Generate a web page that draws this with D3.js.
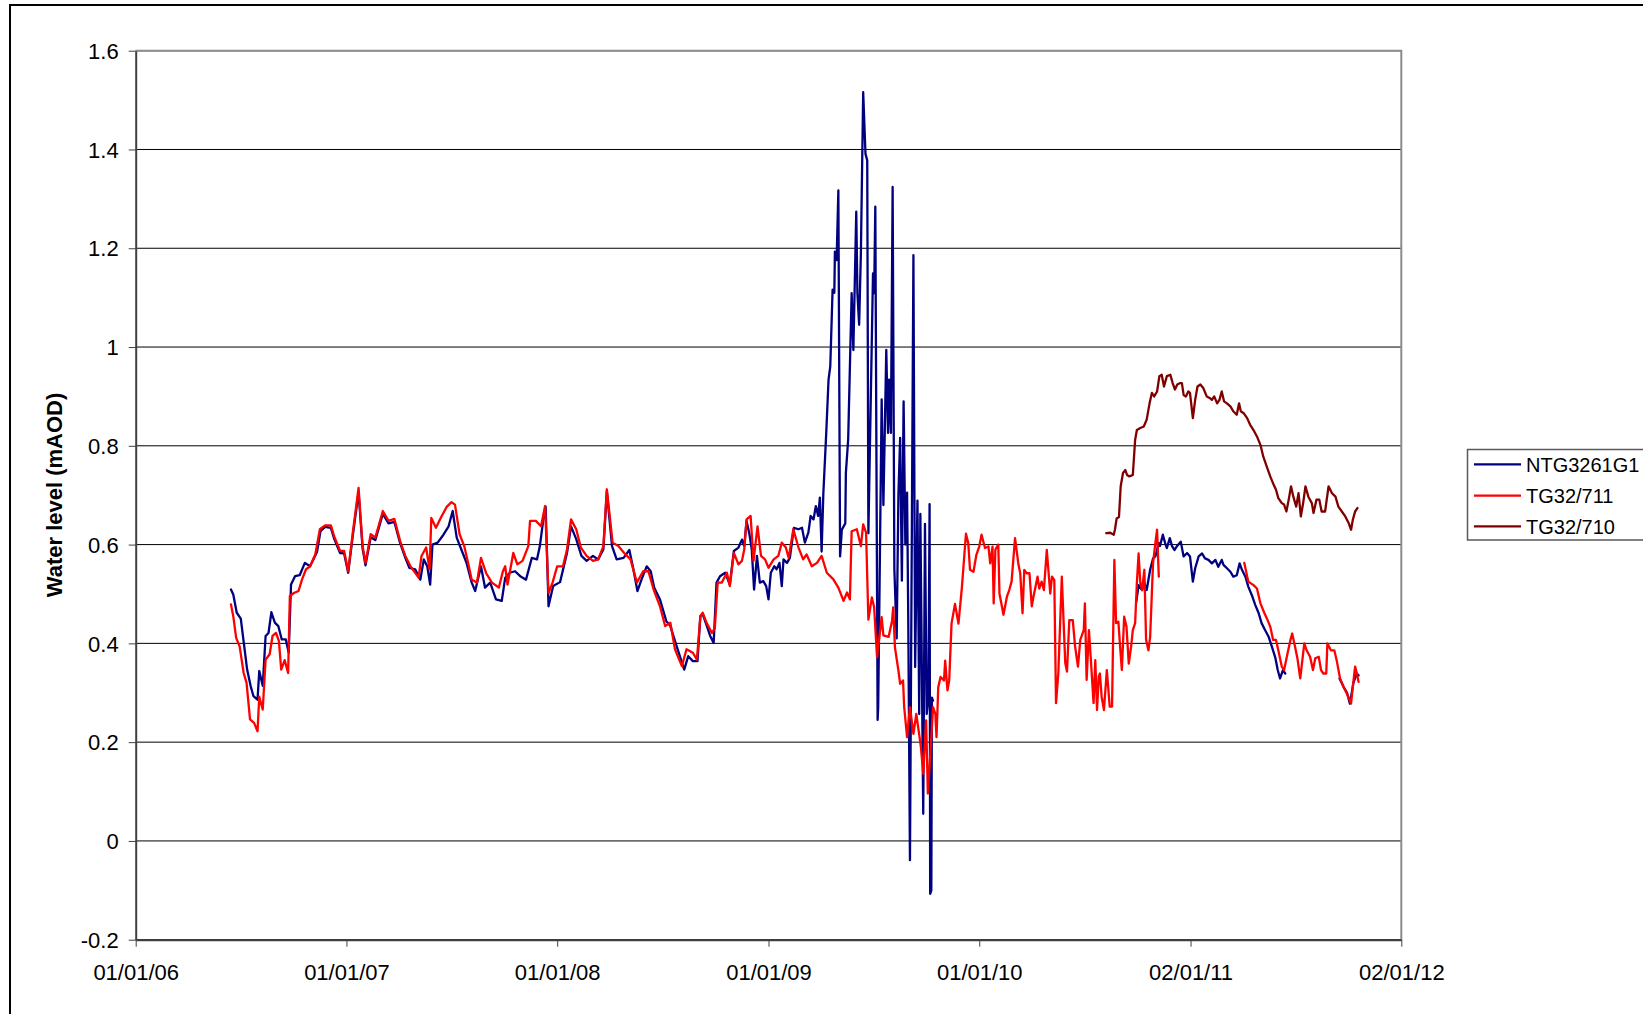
<!DOCTYPE html>
<html>
<head>
<meta charset="utf-8">
<script src="https://cdn.jsdelivr.net/npm/d3@7"></script>
<style>
  html, body { margin: 0; padding: 0; background: #ffffff; }
  svg { display: block; font-family: "Liberation Sans", Arial, Helvetica, sans-serif; }
</style>
</head>
<body>
<svg id="chart" width="1643" height="1014"></svg>
<script>
// Groundwater level readings (mAOD). A null value marks a break in the record.
const ntg3261g1 = [
  ["2006-06-15",0.509],["2006-06-19",0.499],["2006-06-25",0.462],["2006-07-02",0.450],["2006-07-08",0.394],
  ["2006-07-13",0.347],["2006-07-19",0.314],["2006-07-24",0.293],["2006-07-31",0.286],["2006-08-03",0.344],
  ["2006-08-09",0.314],["2006-08-14",0.415],["2006-08-19",0.421],["2006-08-24",0.463],["2006-08-30",0.442],
  ["2006-09-05",0.435],["2006-09-11",0.408],["2006-09-18",0.408],["2006-09-23",0.381],["2006-09-27",0.519],
  ["2006-10-04",0.536],["2006-10-12",0.538],["2006-10-21",0.563],["2006-10-30",0.556],["2006-11-11",0.585],
  ["2006-11-17",0.627],["2006-11-25",0.636],["2006-12-05",0.634],["2006-12-11",0.611],["2006-12-21",0.583],
  ["2006-12-28",0.582],["2007-01-04",0.543],["2007-01-12",0.618],["2007-01-22",0.706],["2007-01-29",0.592],
  ["2007-02-03",0.558],["2007-02-12",0.615],["2007-02-20",0.609],["2007-03-05",0.662],["2007-03-15",0.643],
  ["2007-03-25",0.646],["2007-04-04",0.603],["2007-04-13",0.573],["2007-04-20",0.553],["2007-04-30",0.550],
  ["2007-05-09",0.529],["2007-05-15",0.570],["2007-05-21",0.556],["2007-05-26",0.519],["2007-05-30",0.600],
  ["2007-06-08",0.604],["2007-06-18",0.620],["2007-06-27",0.637],["2007-07-04",0.668],["2007-07-11",0.614],
  ["2007-07-20",0.587],["2007-07-28",0.563],["2007-08-06",0.523],["2007-08-12",0.506],["2007-08-22",0.556],
  ["2007-08-29",0.513],["2007-09-07",0.523],["2007-09-17",0.489],["2007-09-27",0.486],["2007-10-03",0.533],
  ["2007-10-11",0.543],["2007-10-20",0.546],["2007-10-29",0.536],["2007-11-08",0.529],["2007-11-18",0.573],
  ["2007-11-27",0.570],["2007-12-02",0.597],["2007-12-08",0.651],["2007-12-12",0.677],["2007-12-17",0.475],
  ["2007-12-25",0.516],["2008-01-06",0.524],["2008-01-18",0.583],["2008-01-25",0.637],["2008-02-03",0.611],
  ["2008-02-12",0.577],["2008-02-21",0.567],["2008-03-03",0.577],["2008-03-12",0.570],["2008-03-21",0.590],
  ["2008-03-27",0.708],["2008-04-05",0.597],["2008-04-13",0.570],["2008-04-25",0.573],["2008-05-05",0.589],
  ["2008-05-12",0.550],["2008-05-19",0.506],["2008-05-26",0.529],["2008-06-04",0.556],["2008-06-11",0.546],
  ["2008-06-17",0.513],["2008-06-27",0.489],["2008-07-08",0.445],["2008-07-15",0.435],["2008-07-26",0.394],
  ["2008-08-08",0.347],["2008-08-15",0.374],["2008-08-23",0.364],["2008-08-31",0.364],["2008-09-05",0.455],
  ["2008-09-09",0.459],["2008-09-16",0.436],["2008-09-22",0.415],["2008-09-28",0.401],["2008-10-03",0.523],
  ["2008-10-09",0.536],["2008-10-18",0.543],["2008-10-26",0.519],["2008-11-02",0.587],["2008-11-10",0.594],
  ["2008-11-16",0.610],["2008-11-20",0.597],["2008-11-24",0.648],["2008-11-29",0.621],["2008-12-03",0.590],
  ["2008-12-07",0.509],["2008-12-12",0.577],["2008-12-17",0.523],["2008-12-23",0.526],["2008-12-28",0.516],
  ["2009-01-01",0.489],["2009-01-05",0.543],["2009-01-11",0.556],["2009-01-15",0.550],["2009-01-20",0.563],
  ["2009-01-24",0.516],["2009-01-27",0.570],["2009-02-02",0.563],["2009-02-07",0.573],["2009-02-14",0.634],
  ["2009-02-22",0.631],["2009-02-28",0.634],["2009-03-05",0.604],["2009-03-11",0.624],["2009-03-15",0.658],
  ["2009-03-20",0.651],["2009-03-24",0.678],["2009-03-28",0.658],["2009-03-31",0.695],["2009-04-03",0.586],
  ["2009-04-06",0.704],["2009-04-11",0.826],["2009-04-15",0.934],["2009-04-18",0.961],["2009-04-22",1.116],
  ["2009-04-25",1.110],["2009-04-26",1.193],["2009-04-29",1.176],["2009-05-02",1.317],["2009-05-05",0.576],
  ["2009-05-08",0.630],["2009-05-14",0.643],["2009-05-15",0.745],["2009-05-19",0.813],["2009-05-25",1.109],
  ["2009-05-28",0.994],["2009-06-02",1.274],["2009-06-04",1.109],["2009-06-07",1.045],["2009-06-10",1.190],
  ["2009-06-14",1.516],["2009-06-18",1.391],["2009-06-21",1.378],["2009-06-23",0.623],["2009-07-01",1.149],
  ["2009-07-03",1.109],["2009-07-05",1.284],["2009-07-09",0.245],["2009-07-10",0.272],["2009-07-16",0.894],
  ["2009-07-19",0.680],["2009-07-24",0.994],["2009-07-27",0.826],["2009-07-29",0.934],["2009-08-01",0.826],
  ["2009-08-04",1.324],["2009-08-07",0.550],["2009-08-11",0.410],["2009-08-14",0.700],["2009-08-17",0.816],
  ["2009-08-20",0.527],["2009-08-23",0.890],["2009-08-26",0.600],["2009-08-29",0.705],["2009-08-31",0.460],
  ["2009-09-03",-0.039],["2009-09-09",1.186],["2009-09-12",0.352],["2009-09-16",0.689],["2009-09-19",0.257],
  ["2009-09-21",0.662],["2009-09-26",0.055],["2009-09-29",0.642],["2009-10-02",0.257],["2009-10-05",0.290],
  ["2009-10-07",0.682],["2009-10-08",-0.107],["2009-10-10",-0.100],["2009-10-11",0.290],["2009-10-13",0.284],
  ["2010-01-01",null],
  ["2010-09-30",0.484],["2010-10-04",0.518],["2010-10-10",0.508],["2010-10-14",0.522],["2010-10-18",0.508],
  ["2010-10-24",0.549],["2010-10-29",0.572],["2010-11-02",0.576],["2010-11-08",0.603],["2010-11-10",0.597],
  ["2010-11-15",0.620],["2010-11-19",0.603],["2010-11-22",0.593],["2010-11-27",0.613],["2010-12-01",0.597],
  ["2010-12-05",0.589],["2010-12-09",0.596],["2010-12-16",0.606],["2010-12-21",0.576],["2010-12-27",0.583],
  ["2011-01-01",0.576],["2011-01-06",0.525],["2011-01-10",0.552],["2011-01-16",0.576],["2011-01-22",0.582],
  ["2011-01-27",0.572],["2011-02-02",0.569],["2011-02-08",0.562],["2011-02-14",0.569],["2011-02-19",0.555],
  ["2011-02-25",0.569],["2011-02-28",0.559],["2011-03-06",0.552],["2011-03-12",0.545],["2011-03-17",0.535],
  ["2011-03-23",0.538],["2011-03-28",0.562],["2011-04-01",0.549],["2011-04-07",0.535],["2011-04-12",0.515],
  ["2011-04-18",0.498],["2011-04-24",0.478],["2011-04-30",0.461],["2011-05-05",0.441],["2011-05-11",0.427],
  ["2011-05-17",0.414],["2011-05-23",0.393],["2011-05-29",0.370],["2011-06-02",0.346],["2011-06-06",0.329],
  ["2011-06-11",0.346],["2011-06-15",0.339],
  ["2011-07-15",null],
  ["2011-09-17",0.329],["2011-09-24",0.312],["2011-09-30",0.300],["2011-10-05",0.278],["2011-10-11",0.320],
  ["2011-10-17",0.339],["2011-10-20",0.335]
];

const tg32_711 = [
  ["2006-06-15",0.479],["2006-06-19",0.455],["2006-06-24",0.411],["2006-06-30",0.394],["2006-07-07",0.340],
  ["2006-07-12",0.320],["2006-07-18",0.246],["2006-07-25",0.239],["2006-07-31",0.222],["2006-08-03",0.292],
  ["2006-08-09",0.266],["2006-08-14",0.367],["2006-08-21",0.378],["2006-08-26",0.415],["2006-09-01",0.421],
  ["2006-09-06",0.405],["2006-09-10",0.347],["2006-09-16",0.366],["2006-09-22",0.340],["2006-09-25",0.496],
  ["2006-10-02",0.502],["2006-10-10",0.506],["2006-10-16",0.529],["2006-10-23",0.550],["2006-10-30",0.556],
  ["2006-11-08",0.580],["2006-11-16",0.631],["2006-11-25",0.639],["2006-12-05",0.639],["2006-12-11",0.616],
  ["2006-12-21",0.587],["2006-12-28",0.587],["2007-01-04",0.546],["2007-01-12",0.624],["2007-01-22",0.715],
  ["2007-01-29",0.597],["2007-02-03",0.563],["2007-02-12",0.621],["2007-02-20",0.614],["2007-03-05",0.668],
  ["2007-03-15",0.648],["2007-03-25",0.652],["2007-04-04",0.607],["2007-04-13",0.577],["2007-04-22",0.556],
  ["2007-05-06",0.533],["2007-05-11",0.577],["2007-05-19",0.594],["2007-05-25",0.550],["2007-05-28",0.654],
  ["2007-06-05",0.634],["2007-06-15",0.658],["2007-06-24",0.677],["2007-07-02",0.686],["2007-07-08",0.681],
  ["2007-07-16",0.621],["2007-07-24",0.597],["2007-07-30",0.567],["2007-08-06",0.529],["2007-08-15",0.523],
  ["2007-08-22",0.573],["2007-08-31",0.542],["2007-09-10",0.523],["2007-09-22",0.513],["2007-09-29",0.546],
  ["2007-10-03",0.556],["2007-10-07",0.519],["2007-10-17",0.583],["2007-10-24",0.560],["2007-11-02",0.567],
  ["2007-11-12",0.597],["2007-11-15",0.648],["2007-11-25",0.648],["2007-12-04",0.637],["2007-12-11",0.678],
  ["2007-12-17",0.502],["2007-12-24",0.523],["2008-01-01",0.556],["2008-01-11",0.556],["2008-01-18",0.590],
  ["2008-01-25",0.651],["2008-02-03",0.631],["2008-02-11",0.594],["2008-02-21",0.577],["2008-03-03",0.567],
  ["2008-03-12",0.570],["2008-03-21",0.597],["2008-03-27",0.712],["2008-04-06",0.604],["2008-04-16",0.597],
  ["2008-04-26",0.583],["2008-05-07",0.570],["2008-05-18",0.523],["2008-05-29",0.546],["2008-06-07",0.546],
  ["2008-06-16",0.509],["2008-06-27",0.475],["2008-07-06",0.435],["2008-07-15",0.442],["2008-07-23",0.388],
  ["2008-08-04",0.354],["2008-08-12",0.388],["2008-08-23",0.381],["2008-08-30",0.367],["2008-09-05",0.455],
  ["2008-09-09",0.462],["2008-09-16",0.441],["2008-09-25",0.421],["2008-09-30",0.431],["2008-10-05",0.523],
  ["2008-10-12",0.523],["2008-10-21",0.543],["2008-10-26",0.516],["2008-11-02",0.583],["2008-11-10",0.560],
  ["2008-11-16",0.567],["2008-11-20",0.590],["2008-11-24",0.651],["2008-12-01",0.658],["2008-12-06",0.567],
  ["2008-12-13",0.637],["2008-12-19",0.577],["2008-12-26",0.570],["2009-01-01",0.553],["2009-01-10",0.570],
  ["2009-01-18",0.577],["2009-01-24",0.604],["2009-01-31",0.594],["2009-02-05",0.573],["2009-02-13",0.631],
  ["2009-02-22",0.594],["2009-03-02",0.570],["2009-03-08",0.580],["2009-03-17",0.556],["2009-03-26",0.563],
  ["2009-04-03",0.577],["2009-04-12",0.543],["2009-04-23",0.530],["2009-05-02",0.513],["2009-05-11",0.486],
  ["2009-05-17",0.503],["2009-05-22",0.489],["2009-05-25",0.627],["2009-06-03",0.631],["2009-06-10",0.597],
  ["2009-06-14",0.641],["2009-06-19",0.624],["2009-06-23",0.448],["2009-06-29",0.493],["2009-07-03",0.473],
  ["2009-07-08",0.372],["2009-07-16",0.453],["2009-07-19",0.416],["2009-07-28",0.413],["2009-08-03",0.446],
  ["2009-08-05",0.473],["2009-08-08",0.392],["2009-08-14",0.345],["2009-08-17",0.318],["2009-08-22",0.325],
  ["2009-08-24",0.271],["2009-08-29",0.210],["2009-09-03",0.271],["2009-09-09",0.217],["2009-09-14",0.257],
  ["2009-09-18",0.224],["2009-09-22",0.190],["2009-09-26",0.136],["2009-10-01",0.244],["2009-10-04",0.096],
  ["2009-10-08",0.170],["2009-10-13",0.271],["2009-10-17",0.257],["2009-10-19",0.210],["2009-10-22",0.311],
  ["2009-10-26",0.332],["2009-11-01",0.325],["2009-11-03",0.365],["2009-11-07",0.305],["2009-11-10",0.325],
  ["2009-11-14",0.440],["2009-11-20",0.480],["2009-11-26",0.440],["2009-12-02",0.514],["2009-12-09",0.622],
  ["2009-12-13",0.603],["2009-12-16",0.549],["2009-12-22",0.545],["2009-12-27",0.579],["2010-01-01",0.596],
  ["2010-01-05",0.620],["2010-01-11",0.593],["2010-01-17",0.596],["2010-01-20",0.562],["2010-01-24",0.596],
  ["2010-01-26",0.481],["2010-01-29",0.590],["2010-02-03",0.600],["2010-02-05",0.501],["2010-02-12",0.458],
  ["2010-02-18",0.495],["2010-02-22",0.508],["2010-02-26",0.525],["2010-03-04",0.613],["2010-03-10",0.559],
  ["2010-03-13",0.542],["2010-03-17",0.461],["2010-03-20",0.549],["2010-03-24",0.542],["2010-03-29",0.542],
  ["2010-04-02",0.475],["2010-04-05",0.495],["2010-04-12",0.535],["2010-04-15",0.511],["2010-04-19",0.525],
  ["2010-04-23",0.508],["2010-04-28",0.589],["2010-05-04",0.501],["2010-05-07",0.535],["2010-05-11",0.528],
  ["2010-05-14",0.279],["2010-05-18",0.340],["2010-05-24",0.535],["2010-05-30",0.360],["2010-06-02",0.343],
  ["2010-06-06",0.447],["2010-06-12",0.447],["2010-06-16",0.394],["2010-06-21",0.353],["2010-06-25",0.407],
  ["2010-07-01",0.427],["2010-07-03",0.481],["2010-07-06",0.326],["2010-07-10",0.427],["2010-07-13",0.373],
  ["2010-07-18",0.279],["2010-07-21",0.366],["2010-07-24",0.265],["2010-07-27",0.333],["2010-07-29",0.339],
  ["2010-08-01",0.292],["2010-08-05",0.265],["2010-08-10",0.346],["2010-08-15",0.272],["2010-08-19",0.272],
  ["2010-08-23",0.569],["2010-08-26",0.441],["2010-08-30",0.444],["2010-09-02",0.393],["2010-09-05",0.346],
  ["2010-09-09",0.454],["2010-09-13",0.434],["2010-09-17",0.359],["2010-09-21",0.393],["2010-09-24",0.427],
  ["2010-09-28",0.441],["2010-10-01",0.522],["2010-10-04",0.582],["2010-10-07",0.522],["2010-10-10",0.508],
  ["2010-10-14",0.549],["2010-10-17",0.407],["2010-10-21",0.386],["2010-10-24",0.413],["2010-10-29",0.562],
  ["2010-11-02",0.603],["2010-11-05",0.630],["2010-11-08",0.535],
  ["2011-01-15",null],
  ["2011-04-05",0.563],["2011-04-12",0.525],["2011-04-21",0.518],["2011-04-27",0.511],["2011-05-03",0.481],
  ["2011-05-10",0.461],["2011-05-14",0.451],["2011-05-20",0.434],["2011-05-25",0.407],["2011-05-30",0.407],
  ["2011-06-03",0.386],["2011-06-09",0.353],["2011-06-13",0.346],["2011-06-19",0.380],["2011-06-24",0.407],
  ["2011-06-27",0.420],["2011-07-02",0.393],["2011-07-06",0.370],["2011-07-11",0.329],["2011-07-18",0.400],
  ["2011-07-22",0.386],["2011-07-28",0.373],["2011-08-02",0.346],["2011-08-06",0.370],["2011-08-12",0.373],
  ["2011-08-16",0.346],["2011-08-20",0.339],["2011-08-25",0.339],["2011-08-27",0.400],["2011-09-02",0.386],
  ["2011-09-08",0.386],["2011-09-12",0.366],["2011-09-18",0.329],["2011-09-25",0.309],["2011-10-01",0.295],
  ["2011-10-07",0.278],["2011-10-10",0.312],["2011-10-14",0.353],["2011-10-17",0.339],["2011-10-20",0.322]
];

const tg32_710 = [
  ["2010-08-09",0.623],["2010-08-16",0.624],["2010-08-22",0.620],["2010-08-24",0.630],["2010-08-27",0.653],
  ["2010-08-31",0.656],["2010-09-03",0.718],["2010-09-07",0.745],["2010-09-11",0.751],["2010-09-14",0.741],
  ["2010-09-18",0.738],["2010-09-24",0.741],["2010-09-28",0.812],["2010-10-01",0.832],["2010-10-07",0.836],
  ["2010-10-13",0.839],["2010-10-18",0.853],["2010-10-23",0.886],["2010-10-27",0.907],["2010-10-31",0.900],
  ["2010-11-05",0.910],["2010-11-09",0.941],["2010-11-13",0.944],["2010-11-17",0.920],["2010-11-22",0.941],
  ["2010-11-28",0.944],["2010-12-02",0.927],["2010-12-06",0.914],["2010-12-10",0.924],["2010-12-15",0.927],
  ["2010-12-18",0.927],["2010-12-21",0.903],["2010-12-25",0.900],["2010-12-29",0.910],["2011-01-01",0.907],
  ["2011-01-06",0.856],["2011-01-10",0.893],["2011-01-14",0.920],["2011-01-19",0.924],["2011-01-24",0.917],
  ["2011-01-30",0.900],["2011-02-04",0.897],["2011-02-08",0.893],["2011-02-12",0.900],["2011-02-17",0.886],
  ["2011-02-21",0.893],["2011-02-25",0.910],["2011-03-01",0.890],["2011-03-06",0.886],["2011-03-12",0.880],
  ["2011-03-17",0.870],["2011-03-23",0.863],["2011-03-27",0.886],["2011-03-30",0.870],["2011-04-04",0.866],
  ["2011-04-10",0.856],["2011-04-15",0.843],["2011-04-21",0.832],["2011-04-27",0.819],["2011-05-03",0.802],
  ["2011-05-08",0.778],["2011-05-14",0.758],["2011-05-20",0.738],["2011-05-26",0.721],["2011-05-30",0.711],
  ["2011-06-03",0.694],["2011-06-09",0.684],["2011-06-13",0.681],["2011-06-17",0.667],["2011-06-21",0.691],
  ["2011-06-25",0.718],["2011-06-29",0.697],["2011-07-04",0.677],["2011-07-08",0.704],["2011-07-12",0.657],
  ["2011-07-16",0.684],["2011-07-20",0.718],["2011-07-25",0.697],["2011-07-31",0.684],["2011-08-03",0.664],
  ["2011-08-08",0.691],["2011-08-13",0.691],["2011-08-17",0.667],["2011-08-23",0.667],["2011-08-29",0.718],
  ["2011-09-04",0.704],["2011-09-10",0.697],["2011-09-15",0.677],["2011-09-21",0.667],["2011-09-27",0.657],
  ["2011-10-03",0.643],["2011-10-07",0.630],["2011-10-10",0.650],["2011-10-14",0.667],["2011-10-18",0.674]
];

const seriesNames  = ["NTG3261G1", "TG32/711", "TG32/710"];
const seriesColors = ["#000080", "#FF0000", "#800000"];
const yTickValues  = [-0.2, 0, 0.2, 0.4, 0.6, 0.8, 1, 1.2, 1.4, 1.6];
const xTickDates   = ["2006-01-01", "2007-01-01", "2008-01-01", "2009-01-01", "2010-01-01", "2011-01-02", "2012-01-02"];
const xDomain      = ["2006-01-01", "2012-01-02"];
const yTitle       = "Water level (mAOD)";

const parseDate = d3.timeParse("%Y-%m-%d");
const fmtDate = d3.timeFormat("%d/%m/%y");

const svg = d3.select("#chart");
const plot = { left: 135.7, right: 1401.3, top: 50.7, bottom: 939.7 };

const x = d3.scaleTime()
  .domain(xDomain.map(parseDate))
  .range([plot.left, plot.right]);
const y = d3.scaleLinear()
  .domain([-0.2, 1.6])
  .range([plot.bottom, plot.top]);

// outer chart frame
svg.append("rect")
  .attr("x", 10).attr("y", 5)
  .attr("width", 1800).attr("height", 1200)
  .attr("fill", "#ffffff")
  .attr("stroke", "#000000").attr("stroke-width", 2);

// horizontal gridlines
svg.append("g")
  .selectAll("line")
  .data(yTickValues)
  .join("line")
  .attr("x1", plot.left).attr("x2", plot.right)
  .attr("y1", d => y(d)).attr("y2", d => y(d))
  .attr("stroke", "#000000").attr("stroke-width", 1);

// plot-area frame (top and right)
svg.append("path")
  .attr("d", `M${plot.left},${plot.top}H${plot.right}V${plot.bottom}`)
  .attr("fill", "none")
  .attr("stroke", "#8c8c8c").attr("stroke-width", 2);

// y axis
const yAxis = svg.append("g")
  .attr("transform", `translate(${plot.left},0)`)
  .call(d3.axisLeft(y).tickValues(yTickValues).tickSize(7).tickSizeOuter(0).tickPadding(10)
    .tickFormat(d => String(d)));
yAxis.select(".domain").attr("stroke", "#404040").attr("stroke-width", 2);
yAxis.selectAll(".tick line").attr("stroke", "#404040").attr("stroke-width", 1);
yAxis.selectAll(".tick text")
  .attr("font-size", 22).attr("fill", "#000000").attr("dy", "0.35em")
  .style("font-family", "'Liberation Sans', Arial, sans-serif");

// x axis
const xAxis = svg.append("g")
  .attr("transform", `translate(0,${plot.bottom})`)
  .call(d3.axisBottom(x).tickValues(xTickDates.map(parseDate)).tickSize(7).tickSizeOuter(0).tickPadding(18)
    .tickFormat(fmtDate));
xAxis.select(".domain").attr("stroke", "#404040").attr("stroke-width", 2);
xAxis.selectAll(".tick line").attr("stroke", "#404040").attr("stroke-width", 1);
xAxis.selectAll(".tick text")
  .attr("font-size", 22).attr("fill", "#000000")
  .style("font-family", "'Liberation Sans', Arial, sans-serif");

// y axis title
svg.append("text")
  .attr("transform", "translate(62,495) rotate(-90)")
  .attr("text-anchor", "middle")
  .attr("font-size", 22).attr("font-weight", "bold")
  .attr("fill", "#000000")
  .text(yTitle);

// series lines
const line = d3.line()
  .defined(d => d[1] !== null)
  .x(d => x(parseDate(d[0])))
  .y(d => y(d[1]));

const allSeries = [ntg3261g1, tg32_711, tg32_710];
svg.append("g")
  .selectAll("path")
  .data(allSeries)
  .join("path")
  .attr("d", line)
  .attr("fill", "none")
  .attr("stroke", (d, i) => seriesColors[i])
  .attr("stroke-width", 2.3)
  .attr("stroke-linejoin", "round")
  .attr("stroke-linecap", "round");

// legend
const legend = svg.append("g");
legend.append("rect")
  .attr("x", 1467.5).attr("y", 449.5)
  .attr("width", 220).attr("height", 90.5)
  .attr("fill", "#ffffff")
  .attr("stroke", "#595959").attr("stroke-width", 1.5);
const rowY = [464.3, 495.7, 526.3];
const items = legend.selectAll("g.item")
  .data(seriesNames)
  .join("g").attr("class", "item")
  .attr("transform", (d, i) => `translate(0,${rowY[i]})`);
items.append("line")
  .attr("x1", 1474).attr("x2", 1521)
  .attr("y1", 0).attr("y2", 0)
  .attr("stroke", (d, i) => seriesColors[i])
  .attr("stroke-width", 2.3);
items.append("text")
  .attr("x", 1526).attr("y", 0).attr("dy", "0.36em")
  .attr("font-size", 20).attr("fill", "#000000")
  .text(d => d);
</script>
</body>
</html>
